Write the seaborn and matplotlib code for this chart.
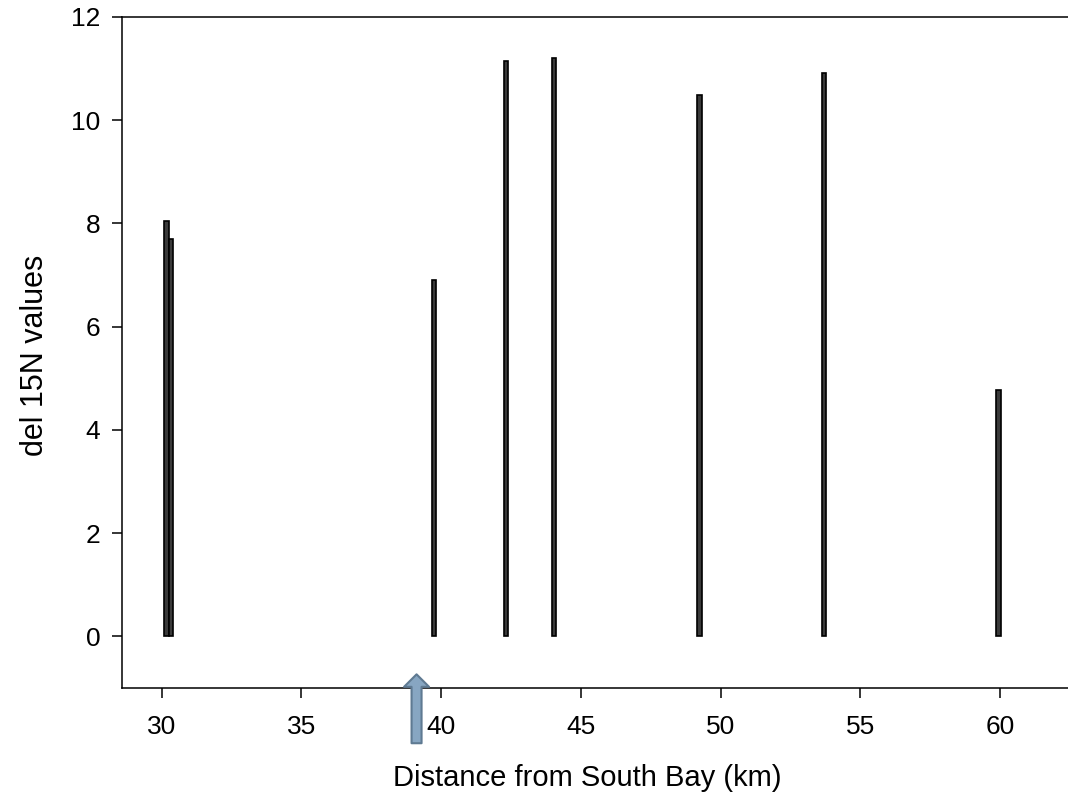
import matplotlib
matplotlib.use("Agg")
import matplotlib.pyplot as plt
import numpy as np
import pandas as pd
import seaborn as sns

# Sampling stations along the transect and their del 15N values
distance_km = [30.17, 30.33, 39.75, 42.32, 44.03, 49.24, 53.70, 59.95]
del15n = [8.04, 7.70, 6.90, 11.15, 11.20, 10.48, 10.92, 4.77]
x_ticks = [30, 35, 40, 45, 50, 55, 60]
y_ticks = [0, 2, 4, 6, 8, 10, 12]
marker_km = 39.12  # location flagged with the arrow below the axis

df = pd.DataFrame({"distance": distance_km, "del15n": del15n})

sns.set_theme(style="white")
plt.rcParams["font.family"] = ["Liberation Sans", "DejaVu Sans"]

W, H = 1068, 806
fig = plt.figure(figsize=(W / 100, H / 100), dpi=100)
ax = fig.add_axes([122 / W, 1 - 688 / H, 1 - 122 / W, (688 - 17) / H])

sns.barplot(data=df, x="distance", y="del15n", native_scale=True, width=1.0,
            color="#3a3a3a", edgecolor="black", linewidth=1.2, errorbar=None,
            saturation=1, ax=ax)

ax.set_xlim(28.58, 62.43)
ax.set_ylim(-1, 12)
ax.set_xticks(x_ticks)
ax.set_yticks(y_ticks)

for side in ("left", "bottom", "top"):
    ax.spines[side].set_visible(True)
    ax.spines[side].set_color("black")
    ax.spines[side].set_linewidth(1.1)
ax.spines["right"].set_visible(False)

ax.tick_params(axis="both", which="major", direction="out", length=7.5, width=1.1,
               color="black", labelcolor="black", labelsize=19)
ax.tick_params(axis="x", pad=12, bottom=True, top=False)
ax.tick_params(axis="y", pad=8, left=True, right=False)

ax.set_xlabel("Distance from South Bay (km)", fontsize=21, color="black")
ax.set_ylabel("del 15N values", fontsize=22, color="black")
ax.xaxis.label.set_va("center")
ax.xaxis.set_label_coords(587.5 / W, 1 - 778 / H, transform=fig.transFigure)
ax.yaxis.label.set_va("center")
ax.yaxis.set_label_coords(35 / W, 1 - 355 / H, transform=fig.transFigure)

# Upward arrow marking a position on the distance axis
ax.annotate("", xy=(marker_km, -0.735), xytext=(marker_km, -2.07),
            xycoords="data", textcoords="data", annotation_clip=False,
            arrowprops=dict(arrowstyle="simple,head_length=0.9,head_width=1.8,tail_width=0.72",
                            mutation_scale=10, shrinkA=0, shrinkB=0,
                            fc="#87a6c2", ec="#5f7a92", lw=1.5))

fig.savefig("out.png", dpi=100, facecolor="white")
